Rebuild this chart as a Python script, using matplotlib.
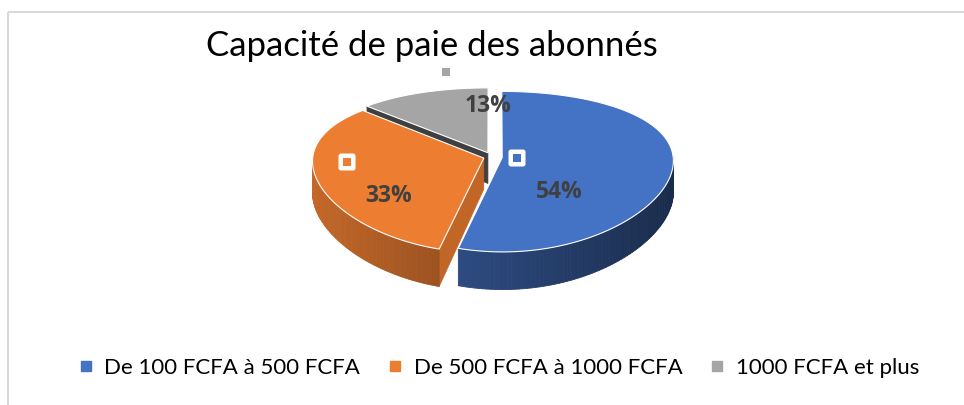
import matplotlib
matplotlib.use('Agg')
import numpy as np
import matplotlib.pyplot as plt
from matplotlib.patches import Polygon, Rectangle, FancyBboxPatch
from matplotlib.lines import Line2D
from matplotlib.colors import to_rgb

# Data
categories = ['De 100 FCFA à 500 FCFA', 'De 500 FCFA à 1000 FCFA', '1000 FCFA et plus']
shares = [54, 33, 13]
colors = ['#4472c4', '#ed7d31', '#a5a5a5']
title = 'Capacité de paie des abonnés'

# Layout of the 3D pie (pixel units, y pointing down)
CX, CY = 492, 157      # pie centre on screen
A, B = 171, 77.6       # horizontal / vertical radius
K, KX = 0.175, 0.04    # perspective factors
H = 31                 # thickness
explode = [0.06, 0.05, 0.06]
label_pos = [(559, 192), (389, 196), (488, 106)]
key_offset = (-42, -34)

FONT = ['Lato', 'DejaVu Sans']
BOLD_FONT = ['Open Sans', 'DejaVu Sans']


def proj(u, v, depth=0.0):
    s = 1.0 / (1.0 + K * v)
    sx = 1.0 / (1.0 + KX * v)
    return CX + A * u * sx, CY - B * v * s + H * depth * s


def shade(color, factor):
    r, g, b = to_rgb(color)
    return (r * factor, g * factor, b * factor)


fig = plt.figure(figsize=(9.64, 4.05), dpi=100)
ax = fig.add_axes([0, 0, 1, 1])
ax.set_xlim(0, 964)
ax.set_ylim(405, 0)
ax.axis('off')

# chart frame
ax.add_patch(Rectangle((8, 12), 2000, 1000, fill=False, edgecolor='#d9d9d9', lw=1.5))

# slice angles (clockwise from 12 o'clock)
fracs = np.array(shares) / np.sum(shares)
ends = np.cumsum(fracs) * 2 * np.pi
starts = ends - fracs * 2 * np.pi

for i in reversed(range(len(shares))):
    t0, t1 = starts[i], ends[i]
    mid = (t0 + t1) / 2
    ou, ov = explode[i] * np.sin(mid), explode[i] * np.cos(mid)

    # radial walls
    for t, nrm in ((t0, t0 - np.pi / 2), (t1, t1 + np.pi / 2)):
        if np.cos(nrm) < -1e-6:
            pts = [proj(ou, ov), proj(ou + np.sin(t), ov + np.cos(t)),
                   proj(ou + np.sin(t), ov + np.cos(t), 1), proj(ou, ov, 1)]
            fac = 0.82 if np.sin(nrm) > 0 else 0.38
            c = shade(colors[i], fac)
            ax.add_patch(Polygon(pts, closed=True, facecolor=c, edgecolor=c, lw=0.5))

    # outer rim (front half only)
    lo, hi = max(t0, np.pi / 2), min(t1, 3 * np.pi / 2)
    if hi > lo:
        ts = np.linspace(lo, hi, 80)
        for ta, tb in zip(ts[:-1], ts[1:]):
            pa = (ou + np.sin(ta), ov + np.cos(ta))
            pb = (ou + np.sin(tb), ov + np.cos(tb))
            pts = [proj(*pa), proj(*pb), proj(*pb, 1), proj(*pa, 1)]
            f = (1 - np.sin((ta + tb) / 2)) / 2
            c = shade(colors[i], 0.38 + 0.45 * f)
            ax.add_patch(Polygon(pts, closed=True, facecolor=c, edgecolor=c, lw=0.6))

    # top face
    ts = np.linspace(t0, t1, 120)
    pts = [proj(ou, ov)] + [proj(ou + np.sin(t), ov + np.cos(t)) for t in ts]
    ax.add_patch(Polygon(pts, closed=True, facecolor=colors[i], edgecolor='white', lw=0.8))

# data labels with legend keys
for i, (lx, ly) in enumerate(label_pos):
    ax.text(lx, ly, f'{shares[i]}%', ha='center', va='center', fontsize=16.5,
            fontweight='bold', color='#404040', family=BOLD_FONT)
    kx, ky = lx + key_offset[0], ly + key_offset[1]
    ax.add_patch(FancyBboxPatch((kx - 6, ky - 6), 12, 12, boxstyle='round,pad=2.5',
                                facecolor='white', edgecolor='none'))
    ax.add_patch(Rectangle((kx - 4, ky - 4), 8, 8, facecolor=colors[i], edgecolor='none'))

ax.text(432, 46, title, ha='center', va='center', fontsize=25, color='black', family=FONT)

handles = [Line2D([], [], marker='s', ls='', markersize=7, color=c) for c in colors]
fig.legend(handles, categories, loc='center', bbox_to_anchor=(498.5 / 964, 1 - 368 / 405),
           ncol=3, frameon=False, prop={'family': FONT, 'size': 16},
           handlelength=0.7, handletextpad=0.5, columnspacing=1.2)

fig.savefig('out.png', dpi=100)
